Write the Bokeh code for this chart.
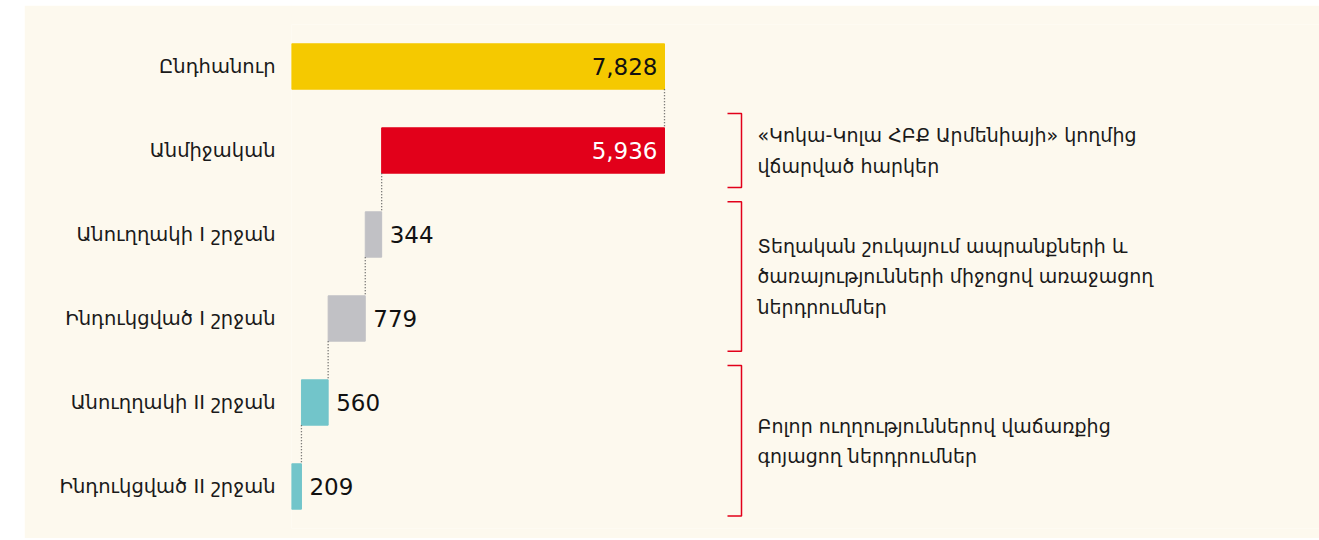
from bokeh.plotting import figure
from bokeh.models import FactorRange, Range1d, Spacer, ColumnDataSource
from bokeh.layouts import row, column
from bokeh.core.properties import value
from bokeh.embed import file_html
from bokeh.resources import INLINE

# ---- data ----
categories = ["Ընդհանուր", "Անմիջական", "Անուղղակի I շրջան",
              "Ինդուկցված I շրջան", "Անուղղակի II շրջան", "Ինդուկցված II շրջան"]
values = [7828, 5936, 344, 779, 560, 209]
bar_colors = ["#F5C900", "#E2001A", "#C1C1C5", "#C1C1C5", "#72C5CA", "#72C5CA"]
label_colors = ["#111111", "#FFFFFF", "#111111", "#111111", "#111111", "#111111"]
labels_inside = [True, True, False, False, False, False]

notes = ["«Կոկա-Կոլա ՀԲՔ Արմենիայի» կողմից\nվճարված հարկեր",
         "Տեղական շուկայում ապրանքների և\nծառայությունների միջոցով առաջացող\nներդրումներ",
         "Բոլոր ուղղություններով վաճառքից\nգոյացող ներդրումներ"]
note_rows = [(1, 1), (2, 3), (4, 5)]

# ---- waterfall geometry from data ----
lefts, rights = [], []
running = values[0]
lefts.append(0); rights.append(values[0])
for v in values[1:]:
    rights.append(running)
    lefts.append(running - v)
    running = running - v

n = len(categories)
FONT = "DejaVu Sans"
BG = "#FDF9EE"
PX = 373 / 7828  # pixels per unit
FRAME_W = 1295 - 267
X_END = FRAME_W / PX
BAR_H = 0.54

p = figure(width=1295, height=533, output_backend="svg", toolbar_location=None,
           y_range=FactorRange(factors=list(reversed(categories)), range_padding=0),
           x_range=Range1d(0, X_END), x_axis_location=None,
           min_border_left=267, min_border_right=0, min_border_top=19, min_border_bottom=10)
p.background_fill_color = BG
p.border_fill_color = BG
p.outline_line_color = None
p.xgrid.visible = False
p.ygrid.visible = False
p.yaxis.axis_line_color = None
p.yaxis.major_tick_line_color = None
p.yaxis.minor_tick_line_color = None
p.yaxis.major_label_standoff = 10
p.yaxis.major_label_text_font = FONT
p.yaxis.major_label_text_font_size = "19.5px"
p.yaxis.major_label_text_color = "#1A1A1A"

src = ColumnDataSource(dict(
    cat=categories, left=lefts, right=rights, color=bar_colors,
    label=[f"{v:,}" for v in values], lcolor=label_colors,
    align=["right" if i else "left" for i in labels_inside],
    xoff=[-7 if i else 8 for i in labels_inside],
))
p.hbar(y="cat", left="left", right="right", height=BAR_H, color="color", source=src)
p.text(x="right", y="cat", text="label", text_color="lcolor", text_align="align",
       x_offset="xoff", text_baseline="middle", text_font=value(FONT),
       text_font_size="23px", source=src)

# connectors (dotted) between consecutive bars
def yc(i):
    return n - i - 0.5

cx, cy0, cy1 = [], [], []
for i in range(n - 1):
    cx.append(rights[i + 1])
    cy0.append(yc(i) - BAR_H / 2)
    cy1.append(yc(i + 1) + BAR_H / 2)
p.segment(x0=cx, x1=cx, y0=cy0, y1=cy1, line_color="#555555", line_width=1.3,
          line_dash="1 2")

# brackets + notes
xv = (741 - 291) / PX
xt = (727 - 291) / PX
xtext = (757 - 291) / PX
pads_top = [0.44, 0.39, 0.44]
pads_bot = [0.44, 0.39, 0.35]
bxs, bys, tys = [], [], []
for (a, b), pt, pb in zip(note_rows, pads_top, pads_bot):
    top = yc(a) + pt
    bot = yc(b) - pb
    bxs.append([xt, xv, xv, xt])
    bys.append([top, top, bot, bot])
    tys.append((top + bot) / 2)
p.multi_line(xs=bxs, ys=bys, line_color="#E2001A", line_width=1.5)
p.text(x=[xtext] * len(notes), y=tys, text=notes, text_baseline="middle",
       text_align="left", text_font=value(FONT), text_font_size="19px",
       text_color="#1A1A1A", text_line_height=1.38)

layout = column(Spacer(width=10, height=5), row(Spacer(width=24, height=533), p))
open("out.html", "w").write(file_html(layout, INLINE))
